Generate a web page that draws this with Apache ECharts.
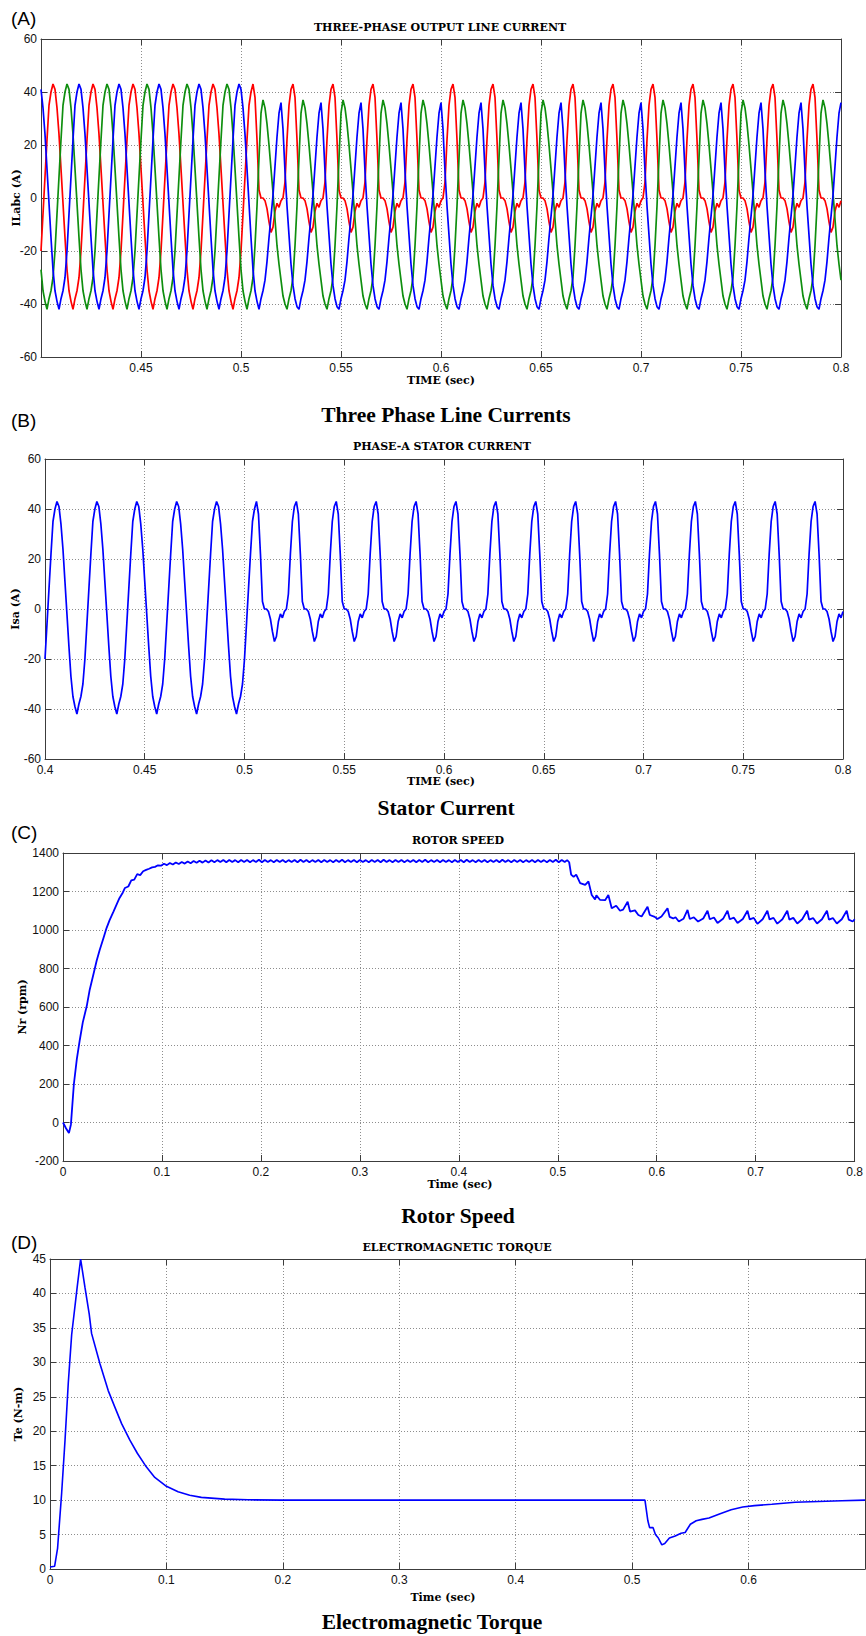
<!DOCTYPE html>
<html>
<head>
<meta charset="utf-8">
<script src="https://cdn.jsdelivr.net/npm/echarts@6/dist/echarts.min.js"></script>
<style>
  html, body { margin: 0; padding: 0; background: #ffffff; }
  #main { width: 866px; height: 1636px; }
</style>
</head>
<body>
<div id="main"></div>
<script>
// ---------------- Line currents (A), sampled every 1 ms from 0.400 s ----------------
const currentStart = 0.4;
const currentStep = 0.001;

// phase a (red); also the phase-A stator current of panel B
const phaseA = [
  -20,-6,8,22,35,40,43,41,34,24,11,-2,-15,-27,-35,-39,-42,-38,-35,-30,
  -20,-6,8,22,35,40,43,41,34,24,11,-2,-15,-27,-35,-39,-42,-38,-35,-30,
  -20,-6,8,22,35,40,43,41,34,24,11,-2,-15,-27,-35,-39,-42,-38,-35,-30,
  -20,-6,8,22,35,40,43,41,34,24,11,-2,-15,-27,-35,-39,-42,-38,-35,-30,
  -20,-6,8,22,35,40,43,41,34,24,11,-2,-15,-27,-35,-39,-42,-38,-35,-30,
  -20,-6,8,22,35,40,43,38,22,3,0,0,-1,-4,-9,-13,-11,-5,-2,-3.5,
  -1,0,6,22,35,41,43,38,22,3,0,0,-1,-4,-9,-13,-11,-5,-2,-3.5,
  -1,0,6,22,35,41,43,38,22,3,0,0,-1,-4,-9,-13,-11,-5,-2,-3.5,
  -1,0,6,22,35,41,43,38,22,3,0,0,-1,-4,-9,-13,-11,-5,-2,-3.5,
  -1,0,6,22,35,41,43,38,22,3,0,0,-1,-4,-9,-13,-11,-5,-2,-3.5,
  -1,0,6,22,35,41,43,38,22,3,0,0,-1,-4,-9,-13,-11,-5,-2,-3.5,
  -1,0,6,22,35,41,43,38,22,3,0,0,-1,-4,-9,-13,-11,-5,-2,-3.5,
  -1,0,6,22,35,41,43,38,22,3,0,0,-1,-4,-9,-13,-11,-5,-2,-3.5,
  -1,0,6,22,35,41,43,38,22,3,0,0,-1,-4,-9,-13,-11,-5,-2,-3.5,
  -1,0,6,22,35,41,43,38,22,3,0,0,-1,-4,-9,-13,-11,-5,-2,-3.5,
  -1,0,6,22,35,41,43,38,22,3,0,0,-1,-4,-9,-13,-11,-5,-2,-3.5,
  -1,0,6,22,35,41,43,38,22,3,0,0,-1,-4,-9,-13,-11,-5,-2,-3.5,
  -1,0,6,22,35,41,43,38,22,3,0,0,-1,-4,-9,-13,-11,-5,-2,-3.5,
  -1,0,6,22,35,41,43,38,22,3,0,0,-1,-4,-9,-13,-11,-5,-2,-3.5,
  -1,0,6,22,35,41,43,38,22,3,0,0,-1,-4,-9,-13,-11,-5,-2,-3.5,
  -1
];

// phase b (green)
const phaseB = [
  -27,-35,-39,-42,-38,-35,-30,-20,-6,8,22,35,40,43,41,34,24,11,-2,-15,
  -27,-35,-39,-42,-38,-35,-30,-20,-6,8,22,35,40,43,41,34,24,11,-2,-15,
  -27,-35,-39,-42,-38,-35,-30,-20,-6,8,22,35,40,43,41,34,24,11,-2,-15,
  -27,-35,-39,-42,-38,-35,-30,-20,-6,8,22,35,40,43,41,34,24,11,-2,-15,
  -27,-35,-39,-42,-38,-35,-30,-20,-6,8,22,35,40,43,41,34,24,11,-2,-15,
  -27,-35,-39,-42,-38,-35,-30,-18,-3,15,32,37,34,28,20,11,2,-8,-18,-25,
  -31,-37,-40,-42,-38,-35,-30,-18,-3,15,32,37,34,28,20,11,2,-8,-18,-25,
  -31,-37,-40,-42,-38,-35,-30,-18,-3,15,32,37,34,28,20,11,2,-8,-18,-25,
  -31,-37,-40,-42,-38,-35,-30,-18,-3,15,32,37,34,28,20,11,2,-8,-18,-25,
  -31,-37,-40,-42,-38,-35,-30,-18,-3,15,32,37,34,28,20,11,2,-8,-18,-25,
  -31,-37,-40,-42,-38,-35,-30,-18,-3,15,32,37,34,28,20,11,2,-8,-18,-25,
  -31,-37,-40,-42,-38,-35,-30,-18,-3,15,32,37,34,28,20,11,2,-8,-18,-25,
  -31,-37,-40,-42,-38,-35,-30,-18,-3,15,32,37,34,28,20,11,2,-8,-18,-25,
  -31,-37,-40,-42,-38,-35,-30,-18,-3,15,32,37,34,28,20,11,2,-8,-18,-25,
  -31,-37,-40,-42,-38,-35,-30,-18,-3,15,32,37,34,28,20,11,2,-8,-18,-25,
  -31,-37,-40,-42,-38,-35,-30,-18,-3,15,32,37,34,28,20,11,2,-8,-18,-25,
  -31,-37,-40,-42,-38,-35,-30,-18,-3,15,32,37,34,28,20,11,2,-8,-18,-25,
  -31,-37,-40,-42,-38,-35,-30,-18,-3,15,32,37,34,28,20,11,2,-8,-18,-25,
  -31,-37,-40,-42,-38,-35,-30,-18,-3,15,32,37,34,28,20,11,2,-8,-18,-25,
  -31,-37,-40,-42,-38,-35,-30,-18,-3,15,32,37,34,28,20,11,2,-8,-18,-25,
  -31
];

// phase c (blue)
const phaseC = [
  41,34,24,11,-2,-15,-27,-35,-39,-42,-38,-35,-30,-20,-6,8,22,35,40,43,
  41,34,24,11,-2,-15,-27,-35,-39,-42,-38,-35,-30,-20,-6,8,22,35,40,43,
  41,34,24,11,-2,-15,-27,-35,-39,-42,-38,-35,-30,-20,-6,8,22,35,40,43,
  41,34,24,11,-2,-15,-27,-35,-39,-42,-38,-35,-30,-20,-6,8,22,35,40,43,
  41,34,24,11,-2,-15,-27,-35,-39,-42,-38,-35,-30,-20,-6,8,22,35,40,43,
  41,34,24,11,-2,-15,-27,-35,-39,-42,-38,-35,-31,-24,-15,-7,1,12,23,32,
  36,26,10,-3,-14,-25,-33,-38,-41,-42,-38,-35,-31,-24,-15,-7,1,12,23,32,
  36,26,10,-3,-14,-25,-33,-38,-41,-42,-38,-35,-31,-24,-15,-7,1,12,23,32,
  36,26,10,-3,-14,-25,-33,-38,-41,-42,-38,-35,-31,-24,-15,-7,1,12,23,32,
  36,26,10,-3,-14,-25,-33,-38,-41,-42,-38,-35,-31,-24,-15,-7,1,12,23,32,
  36,26,10,-3,-14,-25,-33,-38,-41,-42,-38,-35,-31,-24,-15,-7,1,12,23,32,
  36,26,10,-3,-14,-25,-33,-38,-41,-42,-38,-35,-31,-24,-15,-7,1,12,23,32,
  36,26,10,-3,-14,-25,-33,-38,-41,-42,-38,-35,-31,-24,-15,-7,1,12,23,32,
  36,26,10,-3,-14,-25,-33,-38,-41,-42,-38,-35,-31,-24,-15,-7,1,12,23,32,
  36,26,10,-3,-14,-25,-33,-38,-41,-42,-38,-35,-31,-24,-15,-7,1,12,23,32,
  36,26,10,-3,-14,-25,-33,-38,-41,-42,-38,-35,-31,-24,-15,-7,1,12,23,32,
  36,26,10,-3,-14,-25,-33,-38,-41,-42,-38,-35,-31,-24,-15,-7,1,12,23,32,
  36,26,10,-3,-14,-25,-33,-38,-41,-42,-38,-35,-31,-24,-15,-7,1,12,23,32,
  36,26,10,-3,-14,-25,-33,-38,-41,-42,-38,-35,-31,-24,-15,-7,1,12,23,32,
  36,26,10,-3,-14,-25,-33,-38,-41,-42,-38,-35,-31,-24,-15,-7,1,12,23,32,
  36
];

// ---------------- Rotor speed (rpm) ----------------
const speedStartup = [
  [0,0],[0.003,-30],[0.006,-55],[0.008,-10],[0.011,200],[0.014,330],[0.017,430],
  [0.020,520],[0.024,605],[0.027,690],[0.031,775],[0.034,840],[0.037,895],
  [0.041,960],[0.044,1010],[0.047,1050],[0.051,1095],[0.054,1130],[0.057,1165],
  [0.0605,1195],[0.0625,1218],[0.066,1226],[0.069,1258],[0.072,1262],[0.075,1290],
  [0.078,1285],[0.081,1305],[0.084,1312],[0.087,1318],[0.090,1325],[0.093,1328],[0.096,1336]
];
// steady running ripple, one sample every 3 ms from 0.099 s
const rippleStart = 0.099;
const rippleStep = 0.003;
const speedRipple = [
  1334,1344,1337,1348,1340,1351,1343,1353,1345,1356,1347,1358,1349,1360,1350,1361,1351,1362,
  1352,1363,1353,1364,1352,1364,1353,1363,1352,1364,
  1353,1364,1352,1363,1353,1365,1352,1364,1353,1363,
  1352,1364,1353,1364,1352,1363,1353,1364,1352,1365,
  1353,1364,1352,1363,1353,1364,1352,1364,1353,1363,
  1352,1364,1353,1365,1352,1363,1353,1364,1352,1364,
  1353,1363,1352,1364,1353,1364,1352,1365,1353,1363,
  1352,1364,1353,1364,1352,1363,1353,1364,1352,1364,
  1353,1365,1352,1363,1353,1364,1352,1364,1353,1363,
  1352,1364,1353,1364,1352,1365,1353,1363,1352,1364,
  1353,1364,1352,1363,1353,1364,1352,1365,1353,1363,
  1352,1364,1353,1364,1352,1363,1353,1364,1352,1364,
  1353,1363,1352,1364,1353,1365,1352,1364,1353
];
// speed after the load change at 0.51 s
const speedLoadStep = [
  [0.5095,1363],[0.5115,1352],[0.5135,1288],[0.516,1276],[0.5186,1288],[0.5226,1243],
  [0.5277,1234],[0.531,1252],[0.5343,1182],[0.5377,1158],[0.539,1180],[0.5428,1156],
  [0.5478,1155],[0.5511,1182],[0.5545,1113],[0.559,1126],[0.5629,1100],[0.566,1106],
  [0.5706,1147],[0.573,1096],[0.578,1102],[0.5814,1078],[0.5847,1070],[0.5907,1121],
  [0.593,1078],[0.598,1068],[0.6007,1057],[0.6048,1070],[0.6109,1113],[0.613,1068],
  [0.6166,1060],[0.619,1066],[0.6223,1044],[0.627,1058],[0.6311,1104],[0.6334,1057],
  [0.6375,1066],[0.6418,1044],[0.647,1060],[0.6513,1100],[0.6536,1056],[0.6578,1065],
  [0.6614,1036],[0.667,1058],[0.6715,1100],[0.6738,1056],[0.678,1064],[0.6816,1036],
  [0.687,1057],[0.6917,1100],[0.694,1055],[0.698,1063],[0.7017,1032],[0.707,1056],
  [0.7118,1100],[0.714,1055],[0.718,1063],[0.7218,1033],[0.727,1056],[0.7319,1100],
  [0.734,1054],[0.738,1063],[0.742,1034],[0.747,1056],[0.752,1100],[0.754,1054],
  [0.758,1062],[0.762,1034],[0.767,1056],[0.772,1100],[0.774,1054],[0.778,1062],
  [0.782,1034],[0.787,1056],[0.792,1100],[0.794,1054],[0.798,1044],[0.800,1056]
];

// ---------------- Electromagnetic torque (N-m) ----------------
const torque = [
  [0,0.3],[0.004,0.4],[0.0065,3],[0.010,11],[0.0129,18.7],[0.0157,27],[0.0186,34],
  [0.0234,41],[0.0263,45],[0.030,40.9],[0.0337,37],[0.0357,34.2],[0.0429,29.8],
  [0.050,25.9],[0.0557,23.5],[0.0615,21.1],[0.0686,18.7],[0.075,16.8],[0.082,15],
  [0.090,13.3],[0.100,12],[0.110,11.2],[0.120,10.7],[0.130,10.4],[0.150,10.15],
  [0.170,10.05],[0.200,10],[0.300,10],[0.400,10],[0.500,10],[0.511,10],[0.5135,7],
  [0.515,6],[0.518,6],[0.520,5],[0.5225,4.5],[0.5255,3.5],[0.528,3.7],[0.532,4.5],
  [0.537,4.8],[0.542,5.2],[0.5455,5.3],[0.550,6.5],[0.555,7],[0.560,7.2],[0.566,7.4],
  [0.575,8],[0.585,8.6],[0.595,9],[0.605,9.2],[0.620,9.4],[0.640,9.7],[0.660,9.8],
  [0.680,9.9],[0.700,10]
];

// ---------------- Axis tick settings ----------------
const currentTimeTicks = { min: 0.4, max: 0.8, step: 0.05 };
const currentTicks = { min: -60, max: 60, step: 20 };
const speedTimeTicks = { min: 0, max: 0.8, step: 0.1 };
const speedTicks = { min: -200, max: 1400, step: 200 };
const torqueTimeTicks = { min: 0, max: 0.7, step: 0.1 };
const torqueTicks = { min: 0, max: 45, step: 5 };

// ---------------- Helpers ----------------
function sampled(values, t0, dt) {
  return values.map((v, j) => [+(t0 + j * dt).toFixed(4), v]);
}
const speedSeries = speedStartup
  .concat(sampled(speedRipple, rippleStart, rippleStep))
  .concat(speedLoadStep);

const AXIS_COLOR = '#3c3c3c';
const GRID_LINE = { color: '#8d8d8d', type: [1, 2], width: 1 };
const TICK_FONT = { color: '#111', fontFamily: '"Liberation Sans", Arial, sans-serif', fontSize: 12 };
const fmtTime = v => String(Math.round(v * 100) / 100);
const fmtPlain = v => String(Math.round(v));

function xAxes(g, ticks, labelExtra) {
  const base = { type: 'value', gridIndex: g, min: ticks.min, max: ticks.max, interval: ticks.step };
  return [
    Object.assign({}, base, {
      position: 'bottom',
      axisLine: { show: true, onZero: false, lineStyle: { color: AXIS_COLOR, width: 1 } },
      axisTick: { show: true, inside: true, length: 6, lineStyle: { color: AXIS_COLOR } },
      axisLabel: Object.assign({ margin: 5, formatter: fmtTime }, TICK_FONT, labelExtra || {}),
      splitLine: { show: true, lineStyle: GRID_LINE }
    }),
    Object.assign({}, base, {
      position: 'top',
      axisLine: { show: true, onZero: false, lineStyle: { color: AXIS_COLOR, width: 1 } },
      axisTick: { show: true, inside: true, length: 6, lineStyle: { color: AXIS_COLOR } },
      axisLabel: { show: false },
      splitLine: { show: false }
    })
  ];
}
function yAxes(g, ticks) {
  const base = { type: 'value', gridIndex: g, min: ticks.min, max: ticks.max, interval: ticks.step };
  return [
    Object.assign({}, base, {
      position: 'left',
      axisLine: { show: true, onZero: false, lineStyle: { color: AXIS_COLOR, width: 1 } },
      axisTick: { show: true, inside: true, length: 6, lineStyle: { color: AXIS_COLOR } },
      axisLabel: Object.assign({ margin: 4, formatter: fmtPlain }, TICK_FONT),
      splitLine: { show: true, lineStyle: GRID_LINE }
    }),
    Object.assign({}, base, {
      position: 'right',
      axisLine: { show: true, onZero: false, lineStyle: { color: AXIS_COLOR, width: 1 } },
      axisTick: { show: true, inside: true, length: 6, lineStyle: { color: AXIS_COLOR } },
      axisLabel: { show: false },
      splitLine: { show: false }
    })
  ];
}
function trace(name, data, g, color, width) {
  return {
    name, type: 'line', data, xAxisIndex: 2 * g, yAxisIndex: 2 * g,
    showSymbol: false, symbol: 'none', clip: true, animation: false,
    lineStyle: { color, width: width || 1.7 }, z: 3
  };
}

// ---------------- Text labels ----------------
const TAG_FONT = '19px "Liberation Sans", Arial, sans-serif';
const SMALL_BOLD = 'bold 11px "DejaVu Serif", serif';
const CAPTION = 'bold 21.5px "Liberation Serif", "Times New Roman", serif';
function label(text, x, y, font, opts) {
  opts = opts || {};
  return {
    type: 'text', x, y, rotation: opts.rotation || 0, silent: true,
    style: { text, font, fill: '#000', align: opts.align || 'center', verticalAlign: 'middle' }
  };
}
const labels = [
  label('(A)', 11, 18, TAG_FONT, { align: 'left' }),
  label('THREE-PHASE OUTPUT LINE CURRENT', 440, 27, SMALL_BOLD),
  label('TIME (sec)', 441, 380, SMALL_BOLD),
  label('ILabc (A)', 16, 198, SMALL_BOLD, { rotation: Math.PI / 2 }),
  label('Three Phase Line Currents', 446, 415, CAPTION),

  label('(B)', 11, 420, TAG_FONT, { align: 'left' }),
  label('PHASE-A STATOR CURRENT', 442, 446, SMALL_BOLD),
  label('TIME (sec)', 441, 781, SMALL_BOLD),
  label('Isa (A)', 15, 609, SMALL_BOLD, { rotation: Math.PI / 2 }),
  label('Stator Current', 446, 808, CAPTION),

  label('(C)', 11, 832, TAG_FONT, { align: 'left' }),
  label('ROTOR SPEED', 458, 840, SMALL_BOLD),
  label('Time (sec)', 460, 1184, SMALL_BOLD),
  label('Nr (rpm)', 22, 1007, SMALL_BOLD, { rotation: Math.PI / 2 }),
  label('Rotor Speed', 458, 1216, CAPTION),

  label('(D)', 11, 1242, TAG_FONT, { align: 'left' }),
  label('ELECTROMAGNETIC TORQUE', 457, 1247, SMALL_BOLD),
  label('Time (sec)', 443, 1597, SMALL_BOLD),
  label('Te (N-m)', 18, 1414, SMALL_BOLD, { rotation: Math.PI / 2 }),
  label('Electromagnetic Torque', 432, 1622, CAPTION)
];

// ---------------- Chart ----------------
const chart = echarts.init(document.getElementById('main'), null, { renderer: 'svg', width: 866, height: 1636 });
chart.setOption({
  animation: false,
  backgroundColor: '#ffffff',
  grid: [
    { left: 41, top: 39, width: 800, height: 318 },
    { left: 45, top: 459, width: 798, height: 300 },
    { left: 63, top: 853, width: 794, height: 308 },
    { left: 50, top: 1259, width: 815, height: 310 }
  ],
  xAxis: [].concat(
    xAxes(0, currentTimeTicks, { showMinLabel: false }),
    xAxes(1, currentTimeTicks),
    xAxes(2, speedTimeTicks),
    xAxes(3, torqueTimeTicks, { showMaxLabel: false })
  ),
  yAxis: [].concat(
    yAxes(0, currentTicks),
    yAxes(1, currentTicks),
    yAxes(2, speedTicks),
    yAxes(3, torqueTicks)
  ),
  series: [
    trace('ia', sampled(phaseA, currentStart, currentStep), 0, '#ff0000'),
    trace('ib', sampled(phaseB, currentStart, currentStep), 0, '#0f8f0f'),
    trace('ic', sampled(phaseC, currentStart, currentStep), 0, '#0000ff'),
    trace('Isa', sampled(phaseA, currentStart, currentStep), 1, '#0000ff'),
    trace('Nr', speedSeries, 2, '#0000ff', 1.8),
    trace('Te', torque, 3, '#0000ff', 1.6)
  ],
  graphic: labels
});
</script>
</body>
</html>
